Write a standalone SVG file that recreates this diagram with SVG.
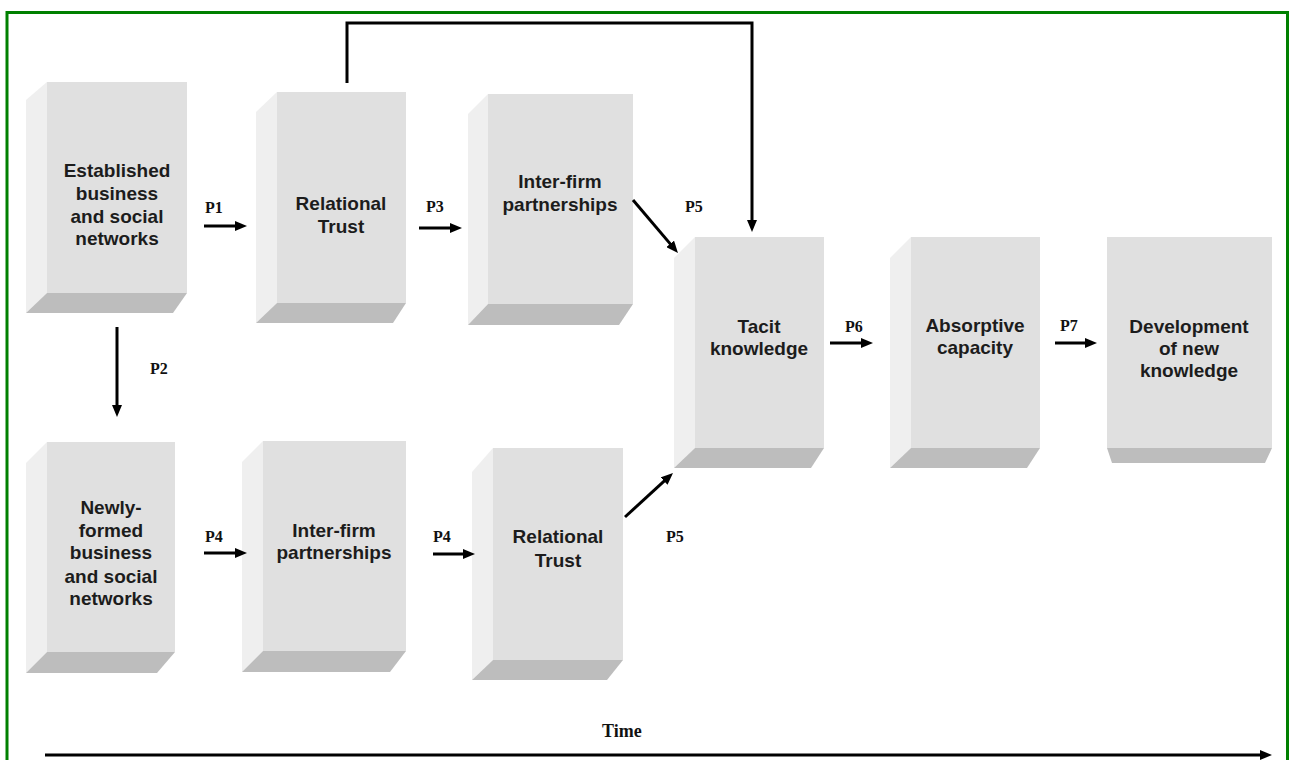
<svg xmlns="http://www.w3.org/2000/svg" width="1289" height="760" viewBox="0 0 1289 760">
<style>
.front{fill:#e0e0e0}
.side{fill:#efefef}
.bot{fill:#bdbdbd}
.t{font-family:"Liberation Sans",Arial,sans-serif;font-weight:bold;font-size:19px;fill:#1c1c1c;text-anchor:middle}
.p{font-family:"Liberation Serif","Times New Roman",serif;font-weight:bold;font-size:16px;fill:#111}
.c{stroke:#000;stroke-width:3;fill:none}
</style>
<defs>
<marker id="ah" markerWidth="12" markerHeight="10" refX="4" refY="5" orient="auto" markerUnits="userSpaceOnUse">
<path d="M0,0 L12,5 L0,10 Z" fill="#000"/>
</marker>
</defs>
<rect x="0" y="0" width="1289" height="760" fill="#fff"/>
<rect x="7" y="12.5" width="1280.5" height="760" fill="none" stroke="#008000" stroke-width="3"/>

<g id="n-established">
<polygon class="side" points="26,100 47,82 47,293 26,313"/>
<rect class="front" x="47" y="82" width="140" height="211"/>
<polygon class="bot" points="47,293 187,293 173,313 26,313"/>
<text class="t" x="117"><tspan x="117" y="177">Established</tspan><tspan x="117" y="200">business</tspan><tspan x="117" y="223">and social</tspan><tspan x="117" y="245">networks</tspan></text>
</g>

<g id="n-trust-top">
<polygon class="side" points="256,112 277,92 277,303 256,323"/>
<rect class="front" x="277" y="92" width="129" height="211"/>
<polygon class="bot" points="277,303 406,303 393,323 256,323"/>
<text class="t"><tspan x="341" y="210">Relational</tspan><tspan x="341" y="233">Trust</tspan></text>
</g>

<g id="n-interfirm-top">
<polygon class="side" points="468,114 488,94 488,304 468,325"/>
<rect class="front" x="488" y="94" width="145" height="210"/>
<polygon class="bot" points="488,304 633,304 619,325 468,325"/>
<text class="t"><tspan x="560" y="188">Inter-firm</tspan><tspan x="560" y="211">partnerships</tspan></text>
</g>

<g id="n-tacit">
<polygon class="side" points="674,258 695,237 695,448 674,468"/>
<rect class="front" x="695" y="237" width="129" height="211"/>
<polygon class="bot" points="695,448 824,448 811,468 674,468"/>
<text class="t"><tspan x="759" y="333">Tacit</tspan><tspan x="759" y="355">knowledge</tspan></text>
</g>

<g id="n-absorptive">
<polygon class="side" points="890,258 911,237 911,448 890,468"/>
<rect class="front" x="911" y="237" width="129" height="211"/>
<polygon class="bot" points="911,448 1040,448 1027,468 890,468"/>
<text class="t"><tspan x="975" y="332">Absorptive</tspan><tspan x="975" y="354">capacity</tspan></text>
</g>

<g id="n-development">
<rect class="front" x="1107" y="237" width="165" height="211"/>
<polygon class="bot" points="1107,448 1272,448 1265,463 1112,463"/>
<text class="t"><tspan x="1189" y="333">Development</tspan><tspan x="1189" y="355">of new</tspan><tspan x="1189" y="377">knowledge</tspan></text>
</g>

<g id="n-newly">
<polygon class="side" points="26,463 47,442 47,652 26,673"/>
<rect class="front" x="47" y="442" width="128" height="210"/>
<polygon class="bot" points="47,652 175,652 157,673 26,673"/>
<text class="t"><tspan x="111" y="514">Newly-</tspan><tspan x="111" y="537">formed</tspan><tspan x="111" y="559">business</tspan><tspan x="111" y="583">and social</tspan><tspan x="111" y="605">networks</tspan></text>
</g>

<g id="n-interfirm-bottom">
<polygon class="side" points="242,462 263,441 263,651 242,672"/>
<rect class="front" x="263" y="441" width="143" height="210"/>
<polygon class="bot" points="263,651 406,651 390,672 242,672"/>
<text class="t"><tspan x="334" y="537">Inter-firm</tspan><tspan x="334" y="559">partnerships</tspan></text>
</g>

<g id="n-trust-bottom">
<polygon class="side" points="472,472 493,448 493,660 472,680"/>
<rect class="front" x="493" y="448" width="130" height="212"/>
<polygon class="bot" points="493,660 623,660 607,680 472,680"/>
<text class="t"><tspan x="558" y="543">Relational</tspan><tspan x="558" y="567">Trust</tspan></text>
</g>

<g id="connectors">
<line class="c" x1="204" y1="226" x2="239" y2="226" marker-end="url(#ah)"/>
<line class="c" x1="419" y1="228" x2="454" y2="228" marker-end="url(#ah)"/>
<path class="c" d="M347,83 V23 H752 V224" marker-end="url(#ah)"/>
<line class="c" x1="633" y1="200" x2="672.8" y2="246.9" marker-end="url(#ah)"/>
<line class="c" x1="117" y1="327" x2="117" y2="409" marker-end="url(#ah)"/>
<line class="c" x1="204" y1="553" x2="239" y2="553" marker-end="url(#ah)"/>
<line class="c" x1="433" y1="554" x2="467" y2="554" marker-end="url(#ah)"/>
<line class="c" x1="625" y1="517" x2="667.1" y2="478.4" marker-end="url(#ah)"/>
<line class="c" x1="830" y1="343" x2="865" y2="343" marker-end="url(#ah)"/>
<line class="c" x1="1055" y1="343" x2="1089" y2="343" marker-end="url(#ah)"/>
<line class="c" x1="45" y1="755" x2="1264" y2="755" marker-end="url(#ah)"/>
</g>

<g id="labels">
<text class="p" x="205" y="213">P1</text>
<text class="p" x="150" y="374">P2</text>
<text class="p" x="426" y="212">P3</text>
<text class="p" x="685" y="212">P5</text>
<text class="p" x="205" y="542">P4</text>
<text class="p" x="433" y="542">P4</text>
<text class="p" x="666" y="542">P5</text>
<text class="p" x="845" y="332">P6</text>
<text class="p" x="1060" y="331">P7</text>
<text class="p" x="602" y="737" style="font-size:18px">Time</text>
</g>
</svg>
